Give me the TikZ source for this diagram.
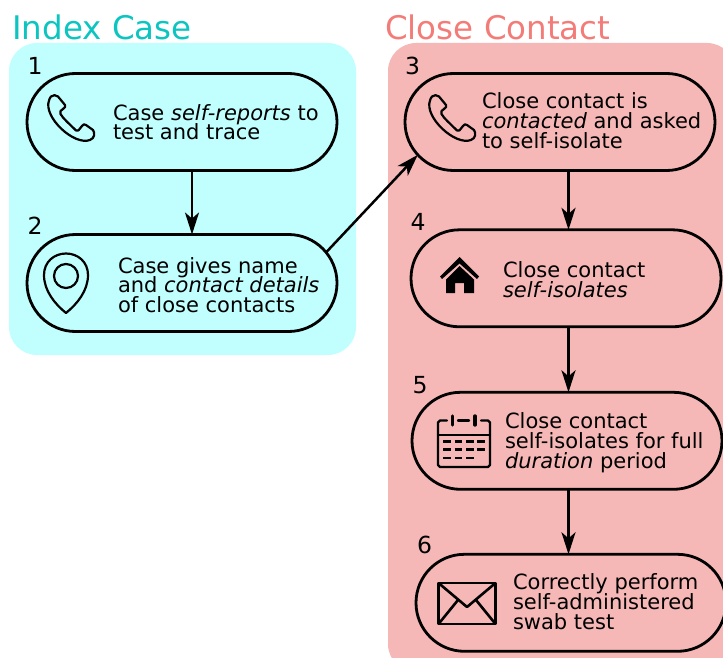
\documentclass[tikz,border=0pt]{standalone}
\usepackage{fontspec}
\setmainfont{DejaVu Sans}
\usetikzlibrary{shapes.misc,arrows.meta}
\definecolor{cyanpanel}{HTML}{C1FFFF}
\definecolor{pinkpanel}{HTML}{F6B8B6}
\definecolor{cyantitle}{HTML}{0CC4C0}
\definecolor{pinktitle}{HTML}{F37C78}
\newcommand\tightlines{\lineskiplimit -30pt\relax}
\tikzset{
  x=1pt,y=-1pt,
  pill/.style={draw=black,line width=2.8pt,rounded rectangle,minimum width=310pt,minimum height=97pt,inner sep=0pt,outer sep=0pt},
  body/.style={anchor=base west,inner sep=0pt,outer sep=0pt,align=left,font={\fontsize{21}{#1}\selectfont\tightlines}},
  body/.default=20,
  num/.style={inner sep=0pt,font=\fontsize{23.5}{24}\selectfont},
  paneltitle/.style={anchor=base west,inner sep=0pt,font=\fontsize{32.5}{34}\selectfont},
  flow/.style={line width=2.5pt,-{Stealth[length=22pt,width=14pt,inset=6pt]}},
  icon/.style={line width=2.2pt,line join=round},
  phone/.pic={
    \draw[icon] (3,1.5) .. controls (5,0) and (8,-0.5) .. (10,1.5) -- (17,10) .. controls (18,11.5) and (17,12.5) .. (15,14) -- (12.5,16)
      .. controls (11,17.5) and (13,20) .. (15,22.5) .. controls (19,27) and (24,31.5) .. (28,35.5) .. controls (30,36.5) and (31,35) .. (32,33.5) -- (34,31) .. controls (35,29) and (36.5,29) .. (38,30)
      -- (45,35) .. controls (47,38) and (47,43) .. (42,45) .. controls (26,51) and (-5,22) .. (1,5.5) .. controls (1.5,4) and (2,2.5) .. (3,1.5) -- cycle;
  },
}
\begin{document}
\begin{tikzpicture}
\useasboundingbox (0,0) rectangle (723,658);
% panels
\fill[cyanpanel,rounded corners=28pt] (9,43) rectangle (356,355);
\fill[pinkpanel,rounded corners=28pt] (388,43) rectangle (735,672);
\node[paneltitle,text=cyantitle] (titleA) at (12,40) {Index Case};
\node[paneltitle,text=pinktitle] (titleB) at (385,40) {Close Contact};
% pills
\node[pill] (n1) at (182,122) {};
\node[pill] (n2) at (182,283) {};
\node[pill] (n3) at (560,122) {};
\node[pill] (n4) at (566,278.3) {};
\node[pill] (n5) at (567,440.8) {};
\node[pill] (n6) at (571,602.8) {};
% numbers
\node[num] (l1) at (35,65.5) {1};
\node[num] (l2) at (35,225.5) {2};
\node[num] (l3) at (412.5,65.5) {3};
\node[num] (l4) at (418,222) {4};
\node[num] (l5) at (420,385) {5};
\node[num] (l6) at (424.5,545) {6};
% texts
\node[body=18.8] (t1) at (113,139.7) {Case \textit{self-reports} to\\test and trace};
\node[body=19.5] (t2) at (118,312) {Case gives name\\and \textit{contact details}\\of close contacts};
\node[body] (t3) at (482,148.3) {Close contact is\\\textit{contacted} and asked\\to self-isolate};
\node[body] (t4) at (503,297.2) {Close contact\\\textit{self-isolates}};
\node[body] (t5) at (505,468.2) {Close contact\\self-isolates for full\\\textit{duration} period};
\node[body] (t6) at (513,629.7) {Correctly perform\\self-administered\\swab test};
% connectors
\draw[flow] ([xshift=10pt]n1.south) -- ([xshift=10pt]n2.north);
\draw[flow] (n2.12.7) -- (n3.193.8);
\draw[flow] ([xshift=8.5pt]n3.south) -- ([xshift=2.5pt]n4.north);
\draw[flow] ([xshift=2.5pt]n4.south) -- ([xshift=1.5pt]n5.north);
\draw[flow] ([xshift=1.5pt]n5.south) -- ([xshift=-2.5pt]n6.north);
% phones
\pic at (48,95) {phone};
\pic at (429,95) {phone};
% pin
\draw[icon] (66,313) .. controls (55,304) and (44,291) .. (44,275) .. controls (44,262) and (54,253.5) .. (66,253.5) .. controls (78,253.5) and (88,262) .. (88,275) .. controls (88,291) and (77,304) .. (66,313) -- cycle;
\draw[icon] (66,276) circle[radius=12];
% house
\fill (440,276.5) -- (459.5,257) -- (479,276.5) -- (477,279) -- (459.5,263.5) -- (442,279) -- cycle;
\fill (446,279.5) -- (459.5,266) -- (474,279.5) -- (474,293) -- (464,293) -- (464,283) -- (455,283) -- (455,293) -- (446,293) -- cycle;
% calendar
\draw[icon,line cap=round,line width=2.4pt] (447,420.5) -- (440,420.5) -- (438,422.5) -- (438,465) -- (440,467) -- (488,467) -- (490,465) -- (490,422.5) -- (488,420.5) -- (481,420.5);
\draw[icon,line cap=round,line width=2.4pt] (458,420.5) -- (469,420.5);
\draw[icon,line width=2.4pt] (438,435) -- (490,435);
\draw[line width=3.4pt,line cap=round] (452.5,416) -- (452.5,425);
\draw[line width=3.4pt,line cap=round] (475,416) -- (475,425);
\foreach \r in {441.5,449.5} {
  \foreach \a/\b in {443/451,454.5/462,466/473.5,477/484.5} { \draw[line width=2.4pt] (\a,\r) -- (\b,\r); }
}
\foreach \a/\b in {443/451,454.5/462,466/473.5} { \draw[line width=2.4pt] (\a,458) -- (\b,458); }
% envelope
\draw[icon,line width=2.6pt] (438.5,583) rectangle (495.5,624);
\draw[icon,line width=2.6pt] (438.5,583) -- (467,607) -- (495.5,583);
\draw[icon,line width=2.6pt] (438.5,624) -- (458,600);
\draw[icon,line width=2.6pt] (495.5,624) -- (476,600);
\end{tikzpicture}
\end{document}
